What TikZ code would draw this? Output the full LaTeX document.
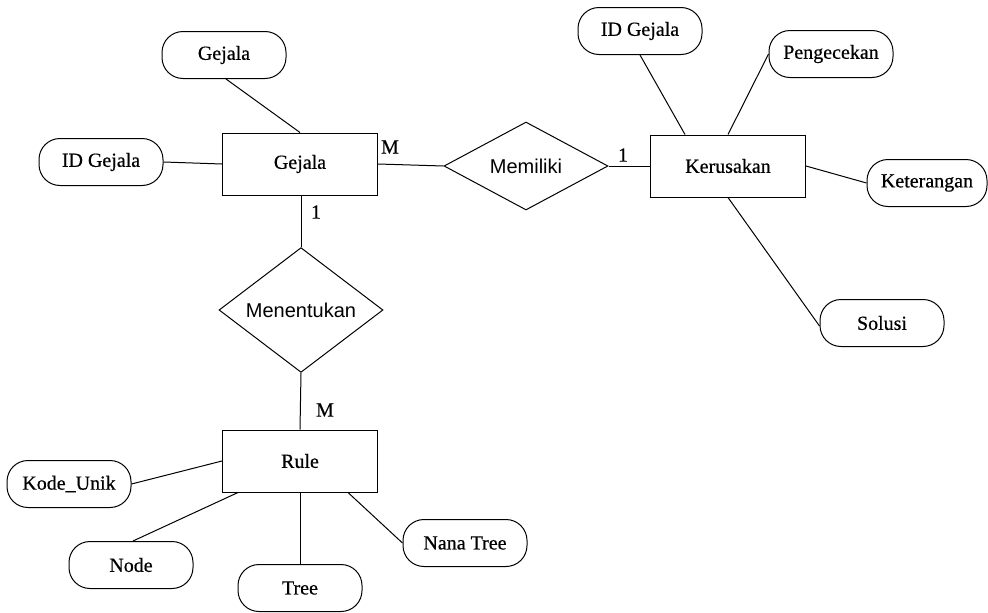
\documentclass[tikz,border=0pt]{standalone}
\usepackage{fontspec}
\setmainfont[FakeBold=0.5,AutoFakeBold=0.5]{Liberation Serif}
\newfontfamily\relfont{Liberation Sans}
\usetikzlibrary{shapes.geometric}
\begin{document}
\begin{tikzpicture}[x=1pt,y=-1pt,
  every node/.style={font=\fontsize{20}{24}\selectfont\bfseries},
  entity/.style={draw, line width=1pt, minimum width=155pt, minimum height=62pt, inner sep=0pt},
  attr/.style={draw, line width=1pt, rounded corners=21pt, minimum width=124pt, minimum height=47pt, inner sep=0pt},
  relation/.style={draw, diamond, line width=1pt, minimum width=164pt, minimum height=88pt, inner sep=0pt,
                   font=\relfont\fontsize{20}{24}\selectfont},
  card/.style={inner sep=0pt},
  link/.style={line width=1pt}]
\useasboundingbox (0,0) rectangle (988,613);

% entities
\node[entity] (gejala) at (300,164) {Gejala};
\node[entity] (kerusakan) at (728,166) {Kerusakan};
\node[entity] (rule) at (300,461) {Rule};

% relationships
\node[relation] (memiliki) at (526,166) {Memiliki};
\node[relation] (menentukan) at (301,310) {Menentukan};

% attributes of Gejala
\node[attr] (gNama) at (224,55) {Gejala};
\node[attr] (gId) at (101,162) {ID Gejala};

% attributes of Kerusakan
\node[attr] (kId) at (640,31) {ID Gejala};
\node[attr] (kCek) at (831,54) {Pengecekan};
\node[attr, minimum width=120pt] (kKet) at (927,183) {Keterangan};
\node[attr] (kSolusi) at (882,323) {Solusi};

% attributes of Rule
\node[attr] (rKode) at (69,484) {Kode\_Unik};
\node[attr] (rNode) at (131,565) {Node};
\node[attr] (rTree) at (300,588) {Tree};
\node[attr] (rNana) at (465,543) {Nana Tree};

% cardinalities
\node[card] (cGM) at (390,147) {M};
\node[card] (cG1) at (316,212) {1};
\node[card] (cK1) at (623,155) {1};
\node[card] (cRM) at (325,410) {M};

% relationship links
\draw[link] (gejala.east) -- (memiliki.west);
\draw[link] (memiliki.east) -- (kerusakan.west);
\draw[link] ([xshift=1pt]gejala.south) -- (menentukan.north);
\draw[link] (menentukan.south) -- (rule.north);

% attribute links
\draw[link] ([xshift=2pt]gNama.south) -- (gejala.north);
\draw[link] (gId.east) -- (gejala.west);
\draw[link] (kId.south) -- ([xshift=-43pt]kerusakan.north);
\draw[link] (kCek.west) -- (kerusakan.north);
\draw[link] (kerusakan.east) -- (kKet.west);
\draw[link] (kerusakan.south) -- ([yshift=-3pt]kSolusi.west);
\draw[link] (rule.west) -- (rKode.east);
\draw[link] ([xshift=-62pt]rule.south) -- ([xshift=2pt]rNode.north);
\draw[link] (rule.south) -- (rTree.north);
\draw[link] ([xshift=48pt]rule.south) -- (rNana.west);
\end{tikzpicture}
\end{document}
